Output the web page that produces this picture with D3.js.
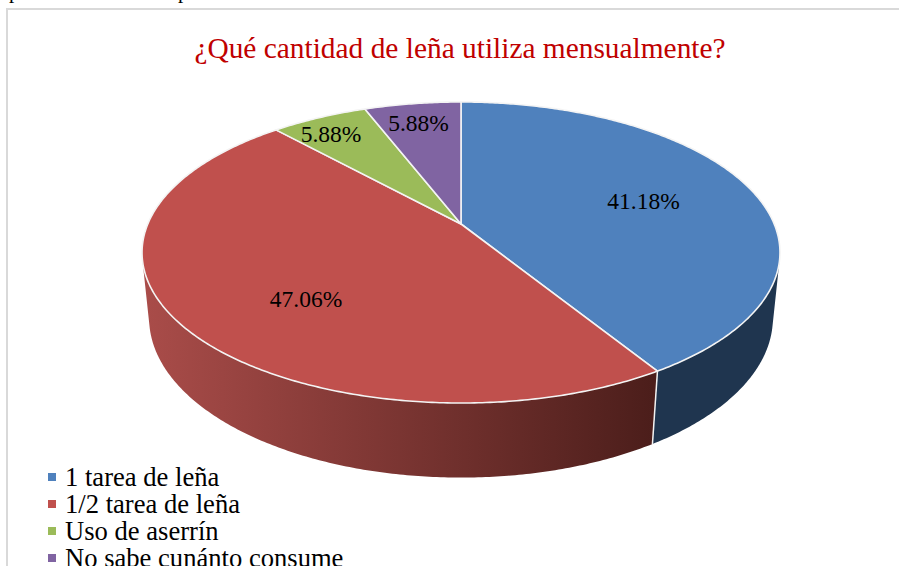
<!DOCTYPE html>
<html><head><meta charset="utf-8">
<script src="https://cdn.jsdelivr.net/npm/d3@7"></script>
<style>html,body{margin:0;padding:0;background:#fff;overflow:hidden}svg{display:block}text{font-family:"Liberation Serif",serif}</style>
</head><body><svg id="c" width="899" height="566"></svg>
<script>
const title = "¿Qué cantidad de leña utiliza mensualmente?";
const categories = ["1 tarea de leña","1/2 tarea de leña","Uso de aserrín","No sabe cunánto consume"];
const values = [41.18,47.06,5.88,5.88];
const topColors = ["#4f81bd","#c0504d","#9bbb59","#8064a2"];
const sideColors = ["#1f354f","url(#redSide)","#5d7035","#4d3c61"];
const labelPos = [[643.5,202],[306,300],[331,135],[418.5,123.5]];

const svg = d3.select("#c");
const defs = svg.append("defs");
const g = defs.append("linearGradient").attr("id","redSide").attr("gradientUnits","userSpaceOnUse")
  .attr("x1",146).attr("x2",652).attr("y1",0).attr("y2",0);
g.append("stop").attr("offset",0).attr("stop-color","#a94c49");
g.append("stop").attr("offset",1).attr("stop-color","#4c1e1b");

// cut off line of the surrounding document
svg.append("g").selectAll("text").data([9,178]).join("text")
  .attr("x",d=>d).attr("y",-2).attr("font-size",21).attr("fill","#000").text("p");
// frame
svg.append("path").attr("d","M7,566V9H899").attr("fill","none").attr("stroke","#d9d9d9").attr("stroke-width",2);

// perspective projection of the disc
const cx=461, cy=224, R=313.2, K=0.1894, A=102.7, vy=3230, C=0.02196;
function proj(ang, bottom){
  const u=Math.sin(ang), v=-Math.cos(ang);
  const w=1-K*v;
  const x=R*u/w, y=(cy+A*v)/w;
  if(!bottom) return [cx+x,y];
  const t=C/(w+C);
  return [cx+x*(1-t), y+t*(vy-y)];
}
const pie = d3.pie().sort(null).value(d=>d)(values);
const line = d3.line();
function arcPts(a0,a1,bottom){
  const n=Math.max(2,Math.ceil((a1-a0)/0.01));
  return d3.range(n+1).map(i=>proj(a0+(a1-a0)*i/n,bottom));
}
// rim points where the wall's vertical edges graze the disc
const sil = d3.greatest(d3.range(0,Math.PI,0.002),a=>{const p=proj(a,false);return (p[0]-cx)/(vy-p[1]);});
const visible = pie.map(p=>[Math.max(p.startAngle,sil),Math.min(p.endAngle,2*Math.PI-sil)]);
// sides
svg.append("g").selectAll("path").data(d3.range(pie.length).filter(i=>visible[i][1]>visible[i][0])).join("path")
  .attr("d",i=>{const [a,b]=visible[i];return line(arcPts(a,b,false).concat(arcPts(a,b,true).reverse()))+"Z";})
  .attr("fill",i=>sideColors[i]);
// white divider on side
const bd=pie[0].endAngle;
svg.append("path").attr("d",line([proj(bd,false),proj(bd,true)])).attr("stroke","#f2f2f2").attr("stroke-width",1.5).attr("fill","none");
// top
svg.append("g").selectAll("path").data(pie).join("path")
  .attr("d",p=>line([[cx,cy]].concat(arcPts(p.startAngle,p.endAngle,false)))+"Z")
  .attr("fill",(p,i)=>topColors[i]).attr("stroke","#f4f4f4").attr("stroke-width",1.6).attr("stroke-linejoin","round");
// labels
svg.append("g").selectAll("text").data(values).join("text")
  .attr("x",(d,i)=>labelPos[i][0]).attr("y",(d,i)=>labelPos[i][1]+7).attr("text-anchor","middle")
  .attr("font-size",23.5).attr("fill","#000").text(d=>d.toFixed(2)+"%");
// title
svg.append("text").attr("x",460).attr("y",58).attr("text-anchor","middle").attr("font-size",29.4).attr("fill","#c00000").text(title);
// legend
const ly=d3.scalePoint().domain(categories).range([477,558]);
const lg=svg.append("g").selectAll("g").data(categories).join("g").attr("transform",d=>`translate(0,${ly(d)})`);
lg.append("rect").attr("x",48).attr("y",-4).attr("width",8).attr("height",8).attr("fill",(d,i)=>topColors[i]);
lg.append("text").attr("x",65).attr("y",9).attr("font-size",26.6).attr("fill","#000").text(d=>d);
</script></body></html>
